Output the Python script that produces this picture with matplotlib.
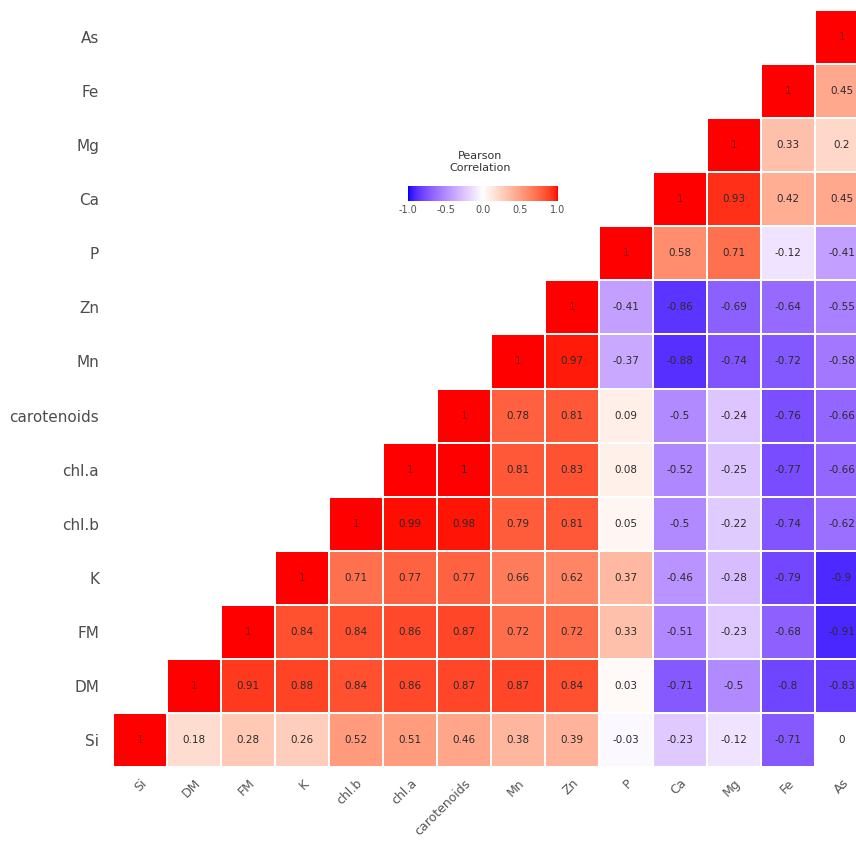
import numpy as np
import matplotlib
matplotlib.use("Agg")
import matplotlib.pyplot as plt
from matplotlib.colors import ListedColormap, Normalize


labels = ["Si", "DM", "FM", "K", "chl.b", "chl.a", "carotenoids",
          "Mn", "Zn", "P", "Ca", "Mg", "Fe", "As"]

# row i holds correlations of labels[i] with labels[i], labels[i+1], ... labels[-1]
corr_si = [1, 0.18, 0.28, 0.26, 0.52, 0.51, 0.46, 0.38, 0.39, -0.03, -0.23, -0.12, -0.71, 0]
corr_dm = [1, 0.91, 0.88, 0.84, 0.86, 0.87, 0.87, 0.84, 0.03, -0.71, -0.5, -0.8, -0.83]
corr_fm = [1, 0.84, 0.84, 0.86, 0.87, 0.72, 0.72, 0.33, -0.51, -0.23, -0.68, -0.91]
corr_k = [1, 0.71, 0.77, 0.77, 0.66, 0.62, 0.37, -0.46, -0.28, -0.79, -0.9]
corr_chlb = [1, 0.99, 0.98, 0.79, 0.81, 0.05, -0.5, -0.22, -0.74, -0.62]
corr_chla = [1, 1, 0.81, 0.83, 0.08, -0.52, -0.25, -0.77, -0.66]
corr_carot = [1, 0.78, 0.81, 0.09, -0.5, -0.24, -0.76, -0.66]
corr_mn = [1, 0.97, -0.37, -0.88, -0.74, -0.72, -0.58]
corr_zn = [1, -0.41, -0.86, -0.69, -0.64, -0.55]
corr_p = [1, 0.58, 0.71, -0.12, -0.41]
corr_ca = [1, 0.93, 0.42, 0.45]
corr_mg = [1, 0.33, 0.2]
corr_fe = [1, 0.45]
corr_as = [1]

corr_rows = [corr_si, corr_dm, corr_fm, corr_k, corr_chlb, corr_chla, corr_carot,
             corr_mn, corr_zn, corr_p, corr_ca, corr_mg, corr_fe, corr_as]

cbar_ticks = [-1.0, -0.5, 0.0, 0.5, 1.0]


def lab_to_rgb(lab):
    L, a, b = lab[:, 0], lab[:, 1], lab[:, 2]
    fy = (L + 16) / 116
    fx = fy + a / 500
    fz = fy - b / 200

    def finv(t):
        return np.where(t > 6 / 29, t ** 3, 3 * (6 / 29) ** 2 * (t - 4 / 29))

    X = 0.95047 * finv(fx)
    Y = finv(fy)
    Z = 1.08883 * finv(fz)
    r = 3.2406 * X - 1.5372 * Y - 0.4986 * Z
    g = -0.9689 * X + 1.8758 * Y + 0.0415 * Z
    bb = 0.0557 * X - 0.2040 * Y + 1.0570 * Z
    rgb = np.stack([r, g, bb], axis=1)
    rgb = np.where(rgb <= 0.0031308, 12.92 * rgb, 1.055 * np.abs(rgb) ** (1 / 2.4) - 0.055)
    return np.clip(rgb, 0, 1)


def make_cmap():
    # blue -> white -> red, interpolated in Lab like ggplot's gradient2
    blue = np.array([32.30, 79.19, -107.86])
    white = np.array([100.0, 0.0, 0.0])
    red = np.array([53.24, 80.09, 67.20])
    t = np.linspace(0, 1, 128)[:, None]
    lower = blue + (white - blue) * t
    upper = white + (red - white) * t
    lab = np.vstack([lower, upper[1:]])
    return ListedColormap(lab_to_rgb(lab))


n = len(labels)
mat = np.full((n, n), np.nan)
for i, row in enumerate(corr_rows):
    for k, v in enumerate(row):
        mat[i, i + k] = v

cmap = make_cmap()
norm = Normalize(-1, 1)

fig = plt.figure(figsize=(8.56, 8.43), dpi=100)
W, H = 856, 843
ax = fig.add_axes([113 / W, 1 - 767 / H, 756 / W, 757 / H])

masked = np.ma.masked_invalid(mat)
ax.pcolormesh(np.arange(n + 1), np.arange(n + 1), masked, cmap=cmap, norm=norm,
              edgecolors="white", linewidth=1.2)

for i in range(n):
    for j in range(i, n):
        v = mat[i, j]
        txt = "1" if v == 1 else f"{v:.2f}".rstrip("0").rstrip(".")
        if txt == "-0":
            txt = "0"
        # the 1s on the diagonal barely show against the red
        col = "#8a0d0d" if i == j else "#2b2b2b"
        ax.text(j + 0.5, i + 0.5, txt, ha="center", va="center",
                fontsize=7.5, color=col)

ax.set_xlim(0, n)
ax.set_ylim(0, n)
ax.set_xticks(np.arange(n) + 0.5)
ax.set_yticks(np.arange(n) + 0.5)
ax.set_xticklabels(labels, rotation=45, ha="right", rotation_mode="anchor",
                   fontsize=9, color="#555555")
ax.set_yticklabels(labels, fontsize=11, color="#4d4d4d")
ax.tick_params(axis="y", length=0, pad=10)
ax.tick_params(axis="x", length=0, pad=7)
for s in ax.spines.values():
    s.set_visible(False)

cax = fig.add_axes([408 / W, 1 - 201 / H, 150 / W, 15 / H])
sm = plt.cm.ScalarMappable(cmap=cmap, norm=norm)
cb = fig.colorbar(sm, cax=cax, orientation="horizontal", ticks=cbar_ticks)
cb.outline.set_visible(False)
cb.ax.tick_params(labelsize=7, length=0, pad=3, labelcolor="#4d4d4d")
cb.ax.set_xticklabels([f"{t:.1f}" for t in cbar_ticks])
fig.text(480 / W, 1 - 162 / H, "Pearson\nCorrelation", ha="center", va="center",
         fontsize=8, color="#333333")

fig.savefig("out.png", dpi=100)
